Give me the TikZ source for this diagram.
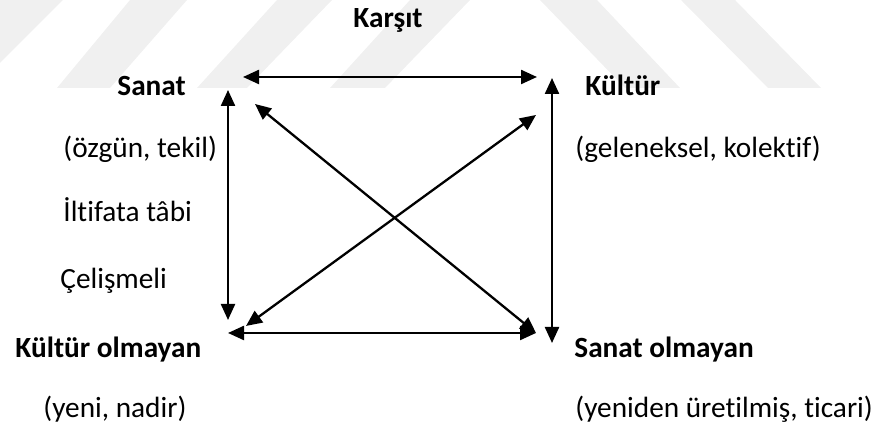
\documentclass[tikz,border=0pt]{standalone}
\usepackage{fontspec}
\setmainfont{Carlito}[Ligatures={NoCommon,NoContextual}]
\usetikzlibrary{arrows.meta}

\tikzset{
  lbl/.style={inner sep=0pt, anchor=base west, font=\fontsize{14.65pt}{17pt}\selectfont},
  head/.style={lbl, font=\bfseries\fontsize{14.65pt}{17pt}\selectfont},
  both/.style={line width=1.15pt, {Triangle[length=8pt,width=7pt]}-{Triangle[length=8pt,width=7pt]}}
}

\begin{document}
\begin{tikzpicture}[x=0.5pt,y=-0.5pt]
\useasboundingbox (0,0) rectangle (878,431);
%watermark bands
\fill[black!6] (0,0) -- (63,0) -- (0,63) -- cycle;
\fill[black!6] (130,0) -- (187,0) -- (110,88) -- (57,88) -- cycle;
\fill[black!6] (277,0) -- (332,0) -- (247,88) -- (197,88) -- cycle;
\fill[black!6] (410,0) -- (470,0) -- (385,88) -- (330,88) -- cycle;
\fill[black!6] (540,0) -- (597,0) -- (680,88) -- (625,88) -- cycle;
\fill[black!6] (681,0) -- (735,0) -- (821,88) -- (768,88) -- cycle;
%labels
\node[head, anchor=base] (karsit) at (388,28) {Karşıt};
\node[head] (sanat) at (117,96) {Sanat};
\node[head] (kultur) at (585,96) {Kültür};
\node[head] (kulturol) at (15,358) {Kültür olmayan};
\node[head] (sanatol) at (574,358) {Sanat olmayan};
\node[lbl] (ozgun) at (63,158) {(özgün, tekil)};
\node[lbl] (iltifat) at (63,222) {İltifata tâbi};
\node[lbl] (celis) at (60,289) {Çelişmeli};
\node[lbl] (yeni) at (43,418) {(yeni, nadir)};
\node[lbl] (gelenek) at (575,158) {(geleneksel, kolektif)};
\node[lbl] (yeniden) at (575,418) {(yeniden üretilmiş, ticari)};
%arrow ends
\coordinate (sTop) at (243,77);
\coordinate (kTop) at (537,77);
\coordinate (sLeft) at (228,90);
\coordinate (koLeft) at (228,320);
\coordinate (kRight) at (552,78);
\coordinate (soRight) at (552,343);
\coordinate (koBot) at (228,333);
\coordinate (soBot) at (536,333);
\coordinate (sDiag) at (255,104);
\coordinate (kDiag) at (536,115);
\coordinate (koDiag) at (246,326);
%arrows
\draw[both] (sTop) -- (kTop);
\draw[both] (sLeft) -- (koLeft);
\draw[both] (kRight) -- (soRight);
\draw[both] (koBot) -- (soBot);
\draw[both] (sDiag) -- (soBot);
\draw[both] (koDiag) -- (kDiag);
\end{tikzpicture}
\end{document}
